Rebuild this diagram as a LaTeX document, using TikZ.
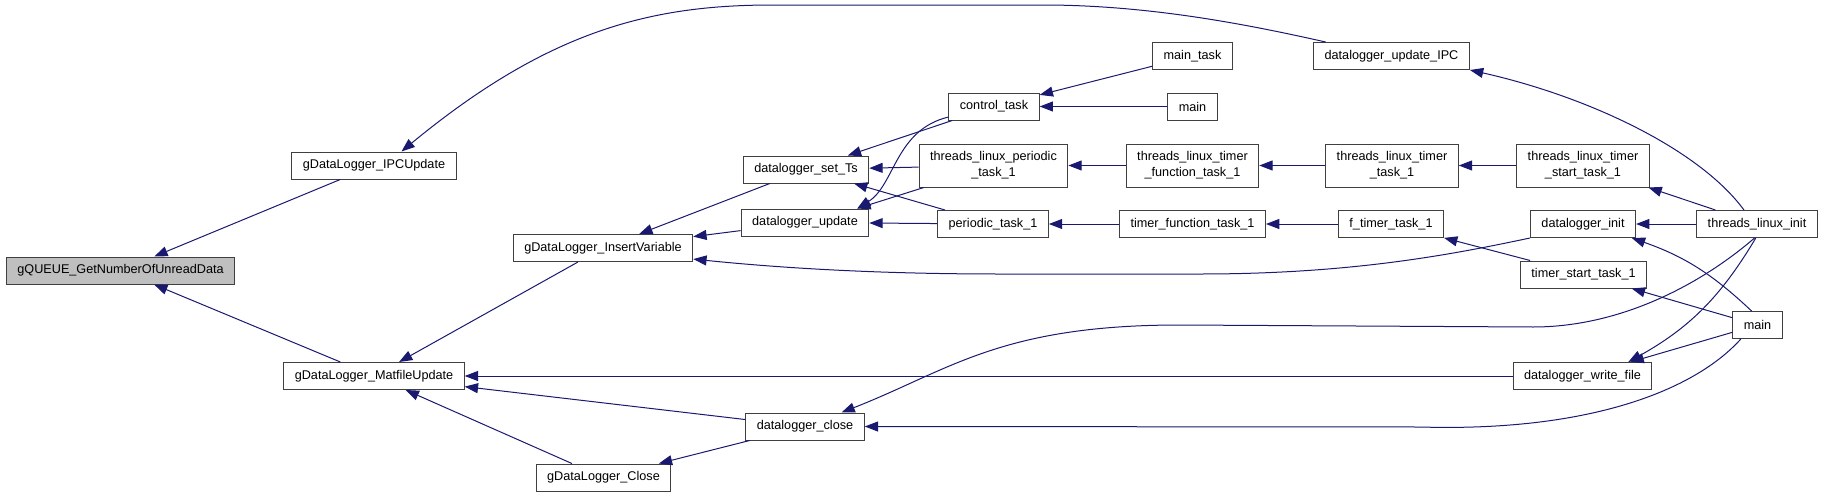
\documentclass[tikz,border=0pt]{standalone}
\usepackage{fontspec}
\setmainfont{Liberation Sans}
\usepackage{tikz}
\usetikzlibrary{arrows.meta}
\definecolor{dxblue}{HTML}{191970}
\definecolor{dxgray}{HTML}{BFBFBF}
\definecolor{dxframe}{HTML}{404040}

\begin{document}
\begin{tikzpicture}[x=0.75pt,y=-0.75pt,
    fn/.style={draw=dxframe, line width=0.75pt, fill=white, inner xsep=8.25pt, inner ysep=0pt,
        minimum height=20.25pt, font=\fontsize{9.5}{12}\selectfont, align=center},
    fn2/.style={fn, minimum height=32.25pt},
    call/.style={draw=dxblue, line width=0.75pt, {Triangle[length=10pt,width=7.5pt]}-}]
    \useasboundingbox (0,0) rectangle (1835,496);

    % Functions
    \node[fn, fill=dxgray] (q) at (120.5,270.5) {gQUEUE\_GetNumberOfUnreadData};
    \node[fn] (ipc) at (374,165.5) {gDataLogger\_IPCUpdate};
    \node[fn] (mat) at (374,376) {gDataLogger\_MatfileUpdate};
    \node[fn] (ins) at (603,248) {gDataLogger\_InsertVariable};
    \node[fn] (gclose) at (603.5,477.5) {gDataLogger\_Close};
    \node[fn] (setts) at (806,169.5) {datalogger\_set\_Ts};
    \node[fn] (upd) at (805,222.5) {datalogger\_update};
    \node[fn] (dclose) at (805,426.5) {datalogger\_close};
    \node[fn] (ctrl) at (994,106.5) {control\_task};
    \node[fn2] (tlp) at (993.5,165.5) {threads\_linux\_periodic\\\_task\_1};
    \node[fn] (per) at (993,224) {periodic\_task\_1};
    \node[fn] (maintask) at (1192.5,56) {main\_task};
    \node[fn] (maina) at (1192.5,106.5) {main};
    \node[fn2] (tltf) at (1192.5,165.5) {threads\_linux\_timer\\\_function\_task\_1};
    \node[fn] (tf) at (1192.5,224) {timer\_function\_task\_1};
    \node[fn] (dipc) at (1391.5,56) {datalogger\_update\_IPC};
    \node[fn2] (tltt) at (1392,165.5) {threads\_linux\_timer\\\_task\_1};
    \node[fn] (ftt) at (1391,224) {f\_timer\_task\_1};
    \node[fn2] (tlts) at (1583,165.5) {threads\_linux\_timer\\\_start\_task\_1};
    \node[fn] (dinit) at (1583,224) {datalogger\_init};
    \node[fn] (tst) at (1583.5,274.5) {timer\_start\_task\_1};
    \node[fn] (dwf) at (1582.5,376) {datalogger\_write\_file};
    \node[fn] (tli) at (1757,224) {threads\_linux\_init};
    \node[fn] (mainb) at (1757.5,325) {main};

    % Callers
    \draw[call] (q) -- (ipc);
    \draw[call] (q) -- (mat);
    \draw[call] (ipc.27) .. controls (550,29) and (653,5) .. (773,5) -- (1043,5)
        .. controls (1150,5) and (1250,25) .. (dipc.168);
    \draw[call] (dipc.south east) .. controls (1590,97) and (1700,150) .. (tli.133);
    \draw[call] (mat) -- (ins);
    \draw[call] (ins) -- (setts);
    \draw[call] (ins) -- (upd);
    \draw[call] (ins.-7) .. controls (800,270) and (900,274) .. (1000,274) -- (1200,274)
        .. controls (1350,274) and (1450,255) .. (dinit.south west);
    \draw[call] (mat) -- (dwf);
    \draw[call] (mat) -- (dclose);
    \draw[call] (mat) -- (gclose);
    \draw[call] (gclose) -- (dclose);
    \draw[call] (dclose.21) .. controls (950,370) and (1000,325) .. (1180,325) -- (1533,327)
        .. controls (1620,327) and (1700,285) .. (tli.-100);
    \draw[call] (dclose.east) -- (1420,427) .. controls (1590,432) and (1695,390) .. (mainb.-140);
    \draw[call] (setts) -- (ctrl);
    \draw[call] (setts) -- (tlp);
    \draw[call] (setts) -- (per);
    \draw[call] (upd.15) .. controls (895,185) and (895,130) .. (ctrl.193);
    \draw[call] (upd.15) -- (tlp);
    \draw[call] (upd) -- (per);
    \draw[call] (ctrl) -- (maintask);
    \draw[call] (ctrl) -- (maina);
    \draw[call] (tlp) -- (tltf);
    \draw[call] (tltf) -- (tltt);
    \draw[call] (tltt) -- (tlts);
    \draw[call] (tlts) -- (tli);
    \draw[call] (per) -- (tf);
    \draw[call] (tf) -- (ftt);
    \draw[call] (ftt) -- (tst);
    \draw[call] (dinit) -- (tli);
    \draw[call] (dinit.-16) to[bend left=12] (mainb.113);
    \draw[call] (tst) -- (mainb);
    \draw[call] (dwf.17) to[bend right=15] (tli.-95);
    \draw[call] (dwf) -- (mainb);
\end{tikzpicture}
\end{document}
